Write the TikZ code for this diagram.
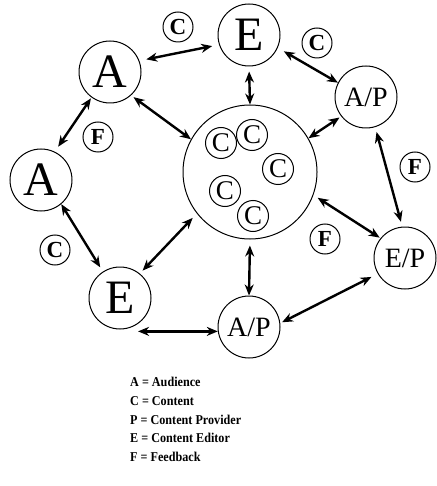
\documentclass[tikz,border=0pt]{standalone}
\usepackage{fontspec}
\setmainfont{Liberation Serif}
\usetikzlibrary{arrows.meta}
\newcommand{\keytext}[1]{\scalebox{0.9}[1]{#1}}
\begin{document}
\begin{tikzpicture}[x=1pt,y=-1pt,
  ring/.style={circle,draw,line width=1pt,inner sep=0pt},
  bigletter/.style={ring,minimum size=62pt,font=\fontsize{48}{48}\selectfont},
  role/.style={ring,minimum size=62pt,font=\fontsize{28}{28}\selectfont},
  tag/.style={ring,minimum size=30pt,font=\fontsize{23}{23}\selectfont\bfseries},
  item/.style={ring,minimum size=31pt,font=\fontsize{27}{27}\selectfont},
  link/.style={line width=2.4pt,{Stealth[length=11pt,width=9pt]}-{Stealth[length=11pt,width=9pt]}},
  key/.style={anchor=base west,inner sep=0pt,font=\fontsize{13.5}{13.5}\selectfont\bfseries}]
\useasboundingbox (0,0) rectangle (436,486);

% central content pool
\node[ring,minimum size=134pt] (pool) at (250,172) {};
\node[item] (c1) at (221,143) {C};
\node[item] (c2) at (252,135) {C};
\node[item] (c3) at (278,169) {C};
\node[item] (c4) at (225,191) {C};
\node[item] (c5) at (253,216) {C};

% participants
\node[bigletter] (At) at (110,72) {A};
\node[bigletter] (Et) at (249,35) {E};
\node[bigletter] (Al) at (41,180) {A};
\node[bigletter] (Eb) at (120,298) {E};
\node[role] (APt) at (366,97) {A/P};
\node[role] (APb) at (249,327) {A/P};
\node[role] (EP) at (405,258) {E/P};

% flow tags
\node[tag] (tc1) at (178,27) {C};
\node[tag] (tc2) at (317,43) {C};
\node[tag] (tc3) at (55,250) {C};
\node[tag] (tf1) at (98,137) {F};
\node[tag] (tf2) at (415,167) {F};
\node[tag] (tf3) at (325,239) {F};

% exchanges
\draw[link,shorten <=7pt,shorten >=7pt] (At.21) -- (Et.198);
\draw[link,shorten <=3pt] (At.-48) -- (pool.151);
\draw[link,shorten <=1pt,shorten >=6pt] (At.234) -- (Al.64);
\draw[link,shorten >=5pt] (Al.-50) -- (Eb.123);
\draw[link,shorten <=6pt,shorten >=4pt] (pool.218) -- (Eb.51);
\draw[link] (APb.188) -- (APb.188 -| Eb.-55);
\draw[link,shorten <=6pt] (pool.south) -- (APb.north);
\draw[link,shorten <=2pt,shorten >=7pt] (APb.7) -- (EP.210);
\draw[link,shorten <=5pt,shorten >=1pt] (pool.-20) -- (EP.141);
\draw[link,shorten <=5pt,shorten >=5pt] (APt.-73) -- (EP.95);
\draw[link,shorten <=2pt] (APt.218) -- (pool.30);
\draw[link,shorten <=7pt] (Et.-24) -- (APt.153);
\draw[link,shorten <=5pt] (Et.south) -- (pool.north);

% legend
\node[key] (k1) at (130,386) {\keytext{A = Audience}};
\node[key] (k2) at (130,405) {\keytext{C = Content}};
\node[key] (k3) at (130,424) {\keytext{P = Content Provider}};
\node[key] (k4) at (130,442) {\keytext{E = Content Editor}};
\node[key] (k5) at (130,461) {\keytext{F = Feedback}};
\end{tikzpicture}
\end{document}
